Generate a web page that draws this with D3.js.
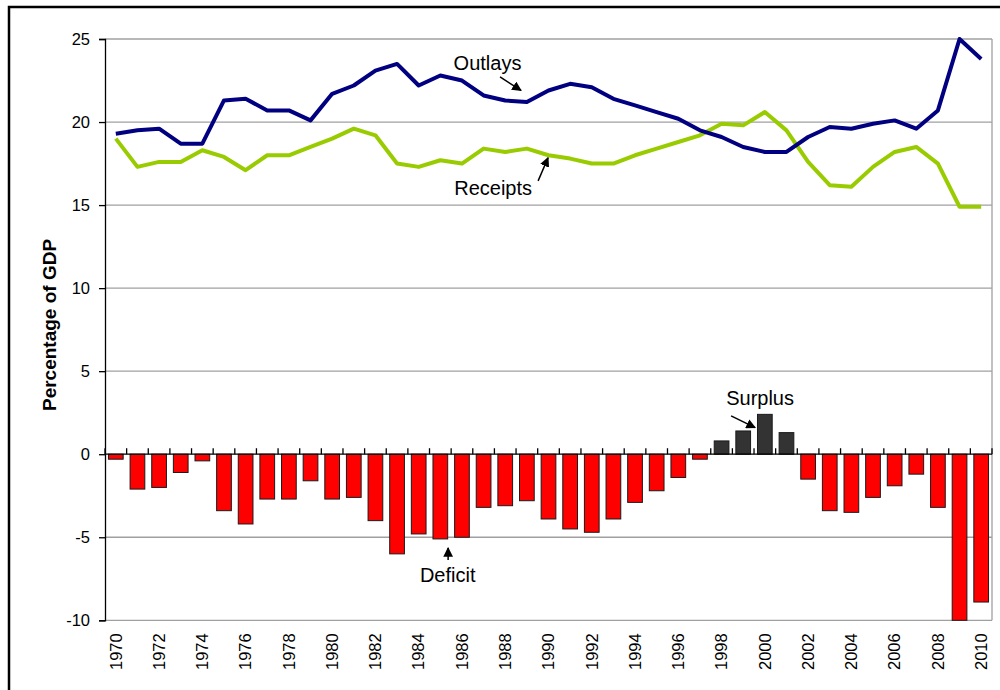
<!DOCTYPE html>
<html lang="en">
<head>
  <meta charset="UTF-8">
  <title>Outlays, Receipts and Deficit</title>
  <style>
    body { margin: 0; background: #ffffff; }
    svg { display: block; font-family: 'Liberation Sans', Arial, sans-serif; }
  </style>
  <script src="https://d3js.org/d3.v7.min.js"></script>
</head>
<body>
  <div id="chart"></div>
  <script>
    // data (percentage of GDP)
    const years = d3.range(1970, 2011);
    const outlays = [19.3, 19.5, 19.6, 18.7, 18.7, 21.3, 21.4, 20.7, 20.7, 20.1,
                     21.7, 22.2, 23.1, 23.5, 22.2, 22.8, 22.5, 21.6, 21.3, 21.2,
                     21.9, 22.3, 22.1, 21.4, 21.0, 20.6, 20.2, 19.5, 19.1, 18.5,
                     18.2, 18.2, 19.1, 19.7, 19.6, 19.9, 20.1, 19.6, 20.7, 25.0, 23.8];
    const receipts = [19.0, 17.3, 17.6, 17.6, 18.3, 17.9, 17.1, 18.0, 18.0, 18.5,
                      19.0, 19.6, 19.2, 17.5, 17.3, 17.7, 17.5, 18.4, 18.2, 18.4,
                      18.0, 17.8, 17.5, 17.5, 18.0, 18.4, 18.8, 19.2, 19.9, 19.8,
                      20.6, 19.5, 17.6, 16.2, 16.1, 17.3, 18.2, 18.5, 17.5, 14.9, 14.9];
    const balance = [-0.3, -2.1, -2.0, -1.1, -0.4, -3.4, -4.2, -2.7, -2.7, -1.6,
                     -2.7, -2.6, -4.0, -6.0, -4.8, -5.1, -5.0, -3.2, -3.1, -2.8,
                     -3.9, -4.5, -4.7, -3.9, -2.9, -2.2, -1.4, -0.3, 0.8, 1.4,
                     2.4, 1.3, -1.5, -3.4, -3.5, -2.6, -1.9, -1.2, -3.2, -10.0, -8.9];
    const yTicks = [-10, -5, 0, 5, 10, 15, 20, 25];
    const xLabels = years.filter(y => y % 2 === 0);

    // annotations in data coordinates: [year, value]
    const notes = [
      { text: 'Outlays',  at: [1987.18, 23.15], from: [1987.76, 22.72], to: [1988.73, 21.90] },
      { text: 'Receipts', at: [1987.44, 15.62], from: [1989.52, 16.46], to: [1989.98, 17.85] },
      { text: 'Surplus',  at: [1999.78, 2.97],  from: [1998.44, 2.31],  to: [1999.55, 1.60] },
      { text: 'Deficit',  at: [1985.34, -7.69], from: [1985.36, -6.37], to: [1985.36, -5.64] }
    ];

    const W = 1000, H = 690;
    const M = { top: 39, right: 8, bottom: 70, left: 105 };
    const iw = W - M.left - M.right, ih = H - M.top - M.bottom;

    const svg = d3.select('#chart').append('svg')
      .attr('width', W).attr('height', H);

    // outer frame
    svg.append('rect')
      .attr('x', 9).attr('y', 7).attr('width', 1010).attr('height', 700)
      .attr('fill', 'none').attr('stroke', '#000').attr('stroke-width', 2.5);

    const x = d3.scaleBand().domain(years).range([0, iw])
      .paddingInner(0.32).paddingOuter(0.16);
    const step = x.step();
    const cx = yr => x(years[0]) + x.bandwidth() / 2 + (yr - years[0]) * step;
    const y = d3.scaleLinear().domain([-10, 25]).range([ih + 0.3, 0]);

    const g = svg.append('g').attr('transform', `translate(${M.left},${M.top})`);

    // gridlines
    g.selectAll('.grid').data(yTicks.filter(t => t !== 0)).join('line')
      .attr('x1', 0).attr('x2', iw)
      .attr('y1', d => y(d)).attr('y2', d => y(d))
      .attr('stroke', '#a0a0a0').attr('stroke-width', 1.3);
    g.append('line')
      .attr('x1', iw).attr('x2', iw).attr('y1', y(25)).attr('y2', y(-10))
      .attr('stroke', '#a0a0a0').attr('stroke-width', 1.3);

    // bars
    g.selectAll('.bar').data(years).join('rect')
      .attr('x', d => x(d))
      .attr('width', x.bandwidth())
      .attr('y', (d, i) => y(Math.max(0, balance[i])))
      .attr('height', (d, i) => Math.abs(y(balance[i]) - y(0)))
      .attr('fill', (d, i) => balance[i] > 0 ? '#333333' : '#ff0000')
      .attr('stroke', '#1a1a1a').attr('stroke-width', 1);

    // y axis
    const yAxis = g.append('g')
      .call(d3.axisLeft(y).tickValues(yTicks).tickSize(6).tickPadding(9)
        .tickFormat(d => String(d)));
    yAxis.select('.domain').attr('stroke', '#000').attr('stroke-width', 1.3);
    yAxis.selectAll('.tick line').attr('stroke', '#000').attr('stroke-width', 1.3);
    yAxis.selectAll('text').attr('font-size', 16.5).attr('fill', '#000')
      .attr('font-family', "'Liberation Sans', Arial, sans-serif");

    // zero axis with category ticks above
    g.append('line')
      .attr('x1', 0).attr('x2', iw).attr('y1', y(0)).attr('y2', y(0))
      .attr('stroke', '#000').attr('stroke-width', 1.3);
    g.selectAll('.xtick').data(d3.range(years.length + 1)).join('line')
      .attr('x1', i => i * step).attr('x2', i => i * step)
      .attr('y1', y(0)).attr('y2', y(0) - 6)
      .attr('stroke', '#000').attr('stroke-width', 1.3);

    // x labels
    g.selectAll('.xlab').data(xLabels).join('text')
      .attr('transform', d => `translate(${cx(d)},${y(-10) + 13}) rotate(-90)`)
      .attr('text-anchor', 'end').attr('dy', '0.35em')
      .attr('font-size', 16.5).attr('fill', '#000')
      .text(d => d);

    // lines
    const line = d3.line().x((d, i) => cx(years[i])).y(d => y(d));
    g.append('path').datum(receipts).attr('d', line)
      .attr('fill', 'none').attr('stroke', '#99cc00').attr('stroke-width', 4)
      .attr('stroke-linejoin', 'round');
    g.append('path').datum(outlays).attr('d', line)
      .attr('fill', 'none').attr('stroke', '#000080').attr('stroke-width', 4)
      .attr('stroke-linejoin', 'round');

    // arrow marker
    svg.append('defs').append('marker')
      .attr('id', 'arr').attr('viewBox', '0 0 10 10').attr('refX', 9).attr('refY', 5)
      .attr('markerWidth', 6.5).attr('markerHeight', 6.5).attr('orient', 'auto')
      .append('path').attr('d', 'M0,0 L10,5 L0,10 z').attr('fill', '#000');

    // annotations
    notes.forEach(n => {
      g.append('text')
        .attr('x', cx(n.at[0])).attr('y', y(n.at[1]))
        .attr('text-anchor', 'middle').attr('font-size', 20).attr('fill', '#000')
        .text(n.text);
      g.append('line')
        .attr('x1', cx(n.from[0])).attr('y1', y(n.from[1]))
        .attr('x2', cx(n.to[0])).attr('y2', y(n.to[1]))
        .attr('stroke', '#000').attr('stroke-width', 1.5)
        .attr('marker-end', 'url(#arr)');
    });

    // y title
    svg.append('text')
      .attr('transform', `translate(56,325) rotate(-90)`)
      .attr('text-anchor', 'middle')
      .attr('font-size', 19).attr('font-weight', 'bold').attr('fill', '#000')
      .text('Percentage of GDP');
  </script>
</body>
</html>
